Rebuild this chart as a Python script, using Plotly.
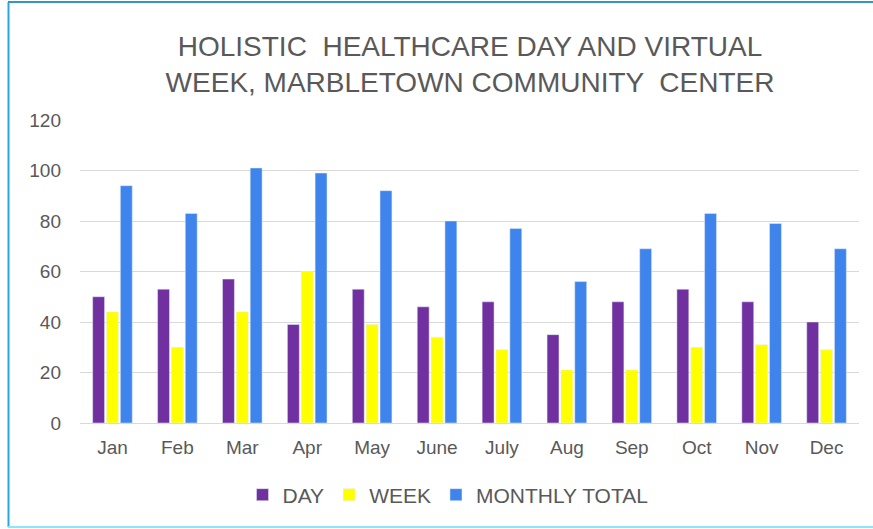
import plotly.graph_objects as go

months = ["Jan", "Feb", "Mar", "Apr", "May", "June", "July", "Aug", "Sep", "Oct", "Nov", "Dec"]
day = [50, 53, 57, 39, 53, 46, 48, 35, 48, 53, 48, 40]
week = [44, 30, 44, 60, 39, 34, 29, 21, 21, 30, 31, 29]
monthly_total = [94, 83, 101, 99, 92, 80, 77, 56, 69, 83, 79, 69]
y_ticks = [0, 20, 40, 60, 80, 100, 120]

FONT = "Liberation Sans, Arial, sans-serif"
GRAY = "#595959"

fig = go.Figure()
fig.add_trace(go.Bar(name="DAY", x=months, y=day, marker_color="#7030A0"))
fig.add_trace(go.Bar(name="WEEK", x=months, y=week, marker_color="#FFFF00"))
fig.add_trace(go.Bar(name="MONTHLY TOTAL", x=months, y=monthly_total, marker_color="#3F84EC"))

W, H = 873, 529
ml, mr, mt, mb = 80, 14, 120, 106
pw, ph = W - ml - mr, H - mt - mb

def px_x(p):
    return (p - ml) / pw

def px_y(p):
    return (H - mb - p) / ph

fig.update_layout(
    width=W, height=H,
    margin=dict(l=ml, r=mr, t=mt, b=mb),
    paper_bgcolor="white", plot_bgcolor="white",
    barmode="group", bargap=0.36, bargroupgap=0.14,
    font=dict(family=FONT, color=GRAY, size=19),
    title=dict(
        text="HOLISTIC \u00a0HEALTHCARE DAY AND VIRTUAL<br>WEEK, MARBLETOWN COMMUNITY \u00a0CENTER",
        x=470 / W, xanchor="center",
        y=1 - 56 / H, yanchor="top",
        font=dict(family=FONT, size=28, color=GRAY),
    ),
    legend=dict(
        orientation="h", x=px_x(448), xanchor="center",
        y=px_y(495), yanchor="middle",
        font=dict(family=FONT, size=21, color=GRAY),
        itemwidth=30, traceorder="normal",
    ),
    yaxis=dict(
        range=[0, 120], tickvals=y_ticks, showgrid=True, gridcolor="#d9d9d9",
        gridwidth=1, zeroline=False, showline=False, ticks="",
        ticklabelstandoff=18, tickfont=dict(size=19, color=GRAY),
    ),
    xaxis=dict(
        showline=True, linecolor="#d9d9d9", linewidth=1, ticks="",
        ticklabelstandoff=7, tickfont=dict(size=19, color=GRAY),
    ),
    shapes=[
        dict(type="line", xref="paper", yref="paper", x0=px_x(8.5), x1=px_x(8.5),
             y0=px_y(2), y1=px_y(527), line=dict(color="#2aa6de", width=2)),
        dict(type="line", xref="paper", yref="paper", x0=px_x(8), x1=px_x(873),
             y0=px_y(2), y1=px_y(2), line=dict(color="#3497c0", width=2)),
        dict(type="line", xref="paper", yref="paper", x0=px_x(8), x1=px_x(873),
             y0=px_y(527), y1=px_y(527), line=dict(color="#8fe3fa", width=2)),
    ],
)

fig.write_html("out.html", config={"displayModeBar": False},
               post_script="document.body.style.margin='0';")
